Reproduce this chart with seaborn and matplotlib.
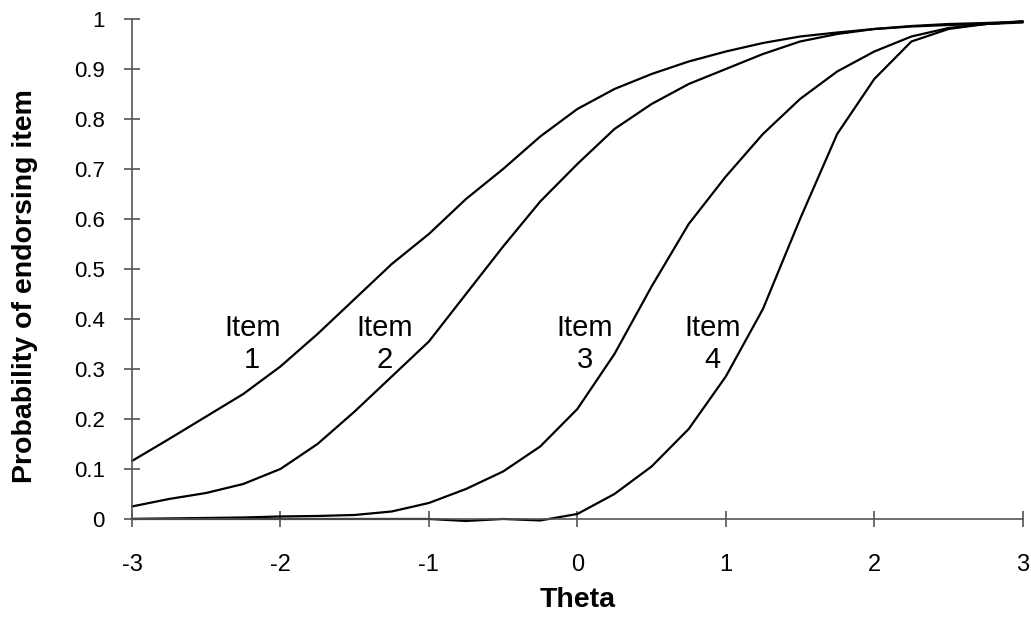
import numpy as np
import pandas as pd
import matplotlib
matplotlib.use("Agg")
import matplotlib.pyplot as plt
import seaborn as sns

# theta grid and probabilities
theta = [-3, -2.75, -2.5, -2.25, -2, -1.75, -1.5, -1.25, -1, -0.75, -0.5, -0.25,
         0, 0.25, 0.5, 0.75, 1, 1.25, 1.5, 1.75, 2, 2.25, 2.5, 2.75, 3]
item1 = [0.116, 0.16, 0.205, 0.25, 0.305, 0.37, 0.44, 0.51, 0.57, 0.64, 0.70, 0.765,
         0.82, 0.86, 0.89, 0.915, 0.935, 0.952, 0.965, 0.973, 0.98, 0.985, 0.988, 0.99, 0.993]
item2 = [0.025, 0.04, 0.052, 0.07, 0.10, 0.15, 0.215, 0.285, 0.355, 0.45, 0.545, 0.635,
         0.71, 0.78, 0.83, 0.87, 0.90, 0.93, 0.955, 0.97, 0.98, 0.986, 0.99, 0.992, 0.995]
item3 = [0.0, 0.001, 0.002, 0.003, 0.005, 0.006, 0.008, 0.015, 0.032, 0.06, 0.095, 0.145,
         0.22, 0.33, 0.465, 0.59, 0.685, 0.77, 0.84, 0.895, 0.935, 0.965, 0.982, 0.99, 0.995]
item4 = [0.0, 0.0, 0.0, 0.0, 0.0, 0.0, 0.0, 0.0, 0.0, -0.004, 0.0, -0.003,
         0.01, 0.05, 0.105, 0.18, 0.285, 0.42, 0.6, 0.77, 0.88, 0.955, 0.98, 0.99, 0.995]

items = ["Item\n1", "Item\n2", "Item\n3", "Item\n4"]
label_x = [-2.19, -1.30, 0.05, 0.91]
label_y = [0.35, 0.35, 0.35, 0.35]

y_ticks = [0, 0.1, 0.2, 0.3, 0.4, 0.5, 0.6, 0.7, 0.8, 0.9, 1]
y_ticklabels = ["0", "0.1", "0.2", "0.3", "0.4", "0.5", "0.6", "0.7", "0.8", "0.9", "1"]
x_ticks = [-3, -2, -1, 0, 1, 2, 3]

df = pd.DataFrame({"theta": theta * 4,
                   "p": item1 + item2 + item3 + item4,
                   "item": sum([[k] * len(theta) for k in items], [])})

sns.set_theme(style="ticks")
plt.rcParams["font.family"] = ["Liberation Sans", "DejaVu Sans"]
plt.rcParams["axes.unicode_minus"] = False
plt.rcParams["text.color"] = "black"
plt.rcParams["axes.labelcolor"] = "black"

fig = plt.figure(figsize=(10.31, 6.19), dpi=100)
ax = fig.add_axes([0.128, 0.1616, 0.864, 0.8077])

sns.lineplot(data=df, x="theta", y="p", units="item", estimator=None,
             color="black", linewidth=1.6, ax=ax, clip_on=False)

for t, x, y in zip(items, label_x, label_y):
    ax.text(x, y, t, ha="center", va="center", fontsize=21, linespacing=1.2,
            color="black")

ax.set_xlim(-3, 3)
ax.set_ylim(0, 1)
ax.set_xticks(x_ticks)
ax.set_xticklabels([str(v) for v in x_ticks])
ax.set_yticks(y_ticks)
ax.set_yticklabels(y_ticklabels)
ax.tick_params(direction="inout", length=11, width=1.2, color="#555555",
               labelcolor="black")
ax.tick_params(axis="x", pad=20, labelsize=17)
ax.tick_params(axis="y", pad=14, labelsize=16)
for s in ["left", "bottom"]:
    ax.spines[s].set_color("#555555")
    ax.spines[s].set_linewidth(1.2)
sns.despine(ax=ax)

ax.set_xlabel("Theta", fontsize=20.5, fontweight="bold", labelpad=8)
ax.set_ylabel("Probability of endorsing item", fontsize=20.5, fontweight="bold")
ax.yaxis.set_label_coords(-0.106, 0.465)

fig.savefig("out.png", dpi=100)
